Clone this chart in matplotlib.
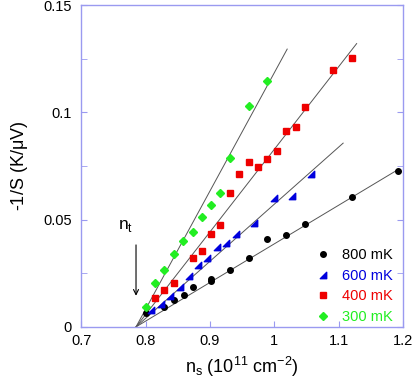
import numpy as np
import matplotlib
matplotlib.use('Agg')
import matplotlib.pyplot as plt
from matplotlib.path import Path
from matplotlib.ticker import MultipleLocator, FormatStrFormatter

plt.rcParams['font.family'] = ['Liberation Sans', 'DejaVu Sans']
plt.rcParams['mathtext.fontset'] = 'custom'
plt.rcParams['mathtext.rm'] = 'Liberation Sans'

# data (n_s in 1e11 cm^-2, -1/S in K/uV)
x_800 = [0.800, 0.829, 0.844, 0.859, 0.873, 0.902, 0.902, 0.931, 0.960, 0.989, 1.018, 1.048, 1.120, 1.193]
y_800 = [0.0064, 0.0092, 0.0127, 0.0150, 0.0184, 0.0215, 0.0222, 0.0267, 0.0322, 0.0408, 0.0427, 0.0478, 0.0605, 0.0725]

x_600 = [0.809, 0.824, 0.838, 0.853, 0.867, 0.882, 0.896, 0.911, 0.925, 0.940, 0.969, 0.999, 1.027, 1.057]
y_600 = [0.0080, 0.0108, 0.0142, 0.0184, 0.0236, 0.0287, 0.0322, 0.0372, 0.0392, 0.0431, 0.0486, 0.0600, 0.0611, 0.0713]

x_400 = [0.815, 0.829, 0.844, 0.873, 0.887, 0.902, 0.916, 0.931, 0.945, 0.960, 0.975, 0.989, 1.004,
         1.018, 1.033, 1.048, 1.091, 1.120]
y_400 = [0.0134, 0.0173, 0.0203, 0.0322, 0.0356, 0.0431, 0.0473, 0.0624, 0.0713, 0.0767, 0.0747, 0.0783, 0.0822,
         0.0911, 0.0930, 0.1023, 0.1197, 0.1252]

x_300 = [0.800, 0.815, 0.829, 0.844, 0.858, 0.873, 0.887, 0.902, 0.916, 0.931, 0.960, 0.989]
y_300 = [0.0092, 0.0203, 0.0264, 0.0342, 0.0398, 0.0444, 0.0510, 0.0569, 0.0624, 0.0788, 0.1028, 0.1144]

labels = ['800 mK', '600 mK', '400 mK', '300 mK']
colors = ['black', '#0000dd', '#ee0000', '#22ee22']

# linear fits: common intercept n_t, slope and end of each line
n_t = 0.785
fit_slopes = [0.180, 0.266, 0.385, 0.551]
fit_x_end = [1.193, 1.107, 1.128, 1.020]

wedge = Path([(1, -1), (1, 1), (-1, -1), (1, -1)],
             [Path.MOVETO, Path.LINETO, Path.LINETO, Path.CLOSEPOLY])
markers = ['o', wedge, 's', 'D']
msizes = [4.0, 4.6, 4.2, 3.8]

frame = '#9a9af0'

fig = plt.figure(figsize=(4.15, 3.91), dpi=100)
ax = fig.add_axes([0.196, 0.164, 0.775, 0.823])

xs = [x_800, x_600, x_400, x_300]
ys = [y_800, y_600, y_400, y_300]

for k in range(4):
    xl = np.array([n_t, fit_x_end[k]])
    ax.plot(xl, fit_slopes[k] * (xl - n_t), color='#555555', lw=0.7, zorder=1)

for k in range(4):
    ax.plot(xs[k], ys[k], linestyle='none', marker=markers[k], ms=msizes[k],
            color=colors[k], mec=colors[k], label=labels[k], zorder=3)

ax.annotate('', xy=(n_t, 0.0132), xytext=(n_t, 0.0395),
            arrowprops=dict(arrowstyle='->', color='black', lw=0.8,
                            mutation_scale=9))
ax.text(0.7575, 0.0455, r'n$_\mathregular{t}$', fontsize=12.5)

ax.set_xlim(0.7, 1.2)
ax.set_ylim(0, 0.15)
ax.xaxis.set_major_locator(MultipleLocator(0.1))
ax.xaxis.set_major_formatter(FormatStrFormatter('%g'))
ax.yaxis.set_major_locator(MultipleLocator(0.05))
ax.yaxis.set_minor_locator(MultipleLocator(0.025))
ax.yaxis.set_major_formatter(FormatStrFormatter('%g'))

for s in ax.spines.values():
    s.set_color(frame)
    s.set_linewidth(1.0)
ax.tick_params(axis='both', which='both', direction='in', color=frame,
               labelsize=10.5, right=True, top=False)
ax.tick_params(which='major', length=4)
ax.tick_params(which='minor', length=4)
ax.tick_params(axis='x', pad=5)
ax.tick_params(axis='y', pad=7)

ax.set_xlabel(r'n$_\mathregular{s}$ (10$^\mathregular{11}$ cm$^\mathregular{-2}$)', fontsize=13, labelpad=5)
ax.set_ylabel(r'-1/S (K/$\mathregular{\mu}$V)', fontsize=13, labelpad=9)

leg = ax.legend(loc='lower right', bbox_to_anchor=(1.0, -0.022), frameon=False,
                fontsize=10.5, handlelength=1.0, handletextpad=0.8,
                labelspacing=0.45, borderaxespad=0.3, labelcolor=colors)

fig.savefig('out.png', dpi=100)
